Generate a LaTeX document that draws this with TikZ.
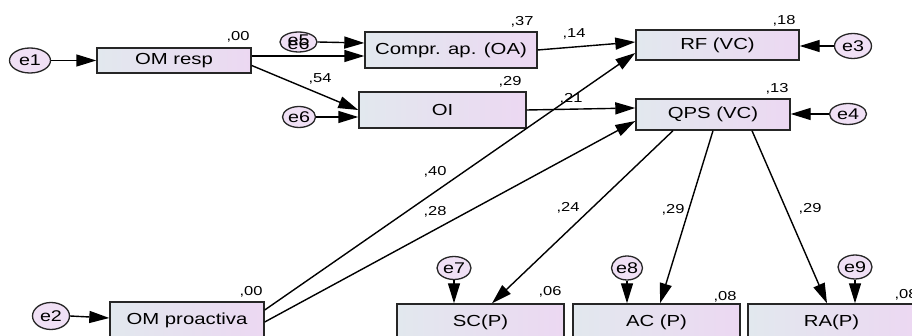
\documentclass[tikz,border=0pt]{standalone}
\usepackage{fontspec}
\usetikzlibrary{arrows.meta,shapes.geometric}
\newfontfamily\semfont[FakeStretch=1.27]{Liberation Sans}
\definecolor{boxL}{RGB}{226,232,238}
\definecolor{boxR}{RGB}{236,216,242}
\definecolor{errfill}{RGB}{240,224,245}
\tikzset{
  obs/.style={rectangle, draw=black!85, line width=1.4pt, left color=boxL, right color=boxR,
    inner sep=0pt, font=\semfont\fontsize{16}{18}\selectfont},
  err/.style={ellipse, draw=black!85, line width=1.3pt, fill=errfill, inner sep=0pt,
    font=\semfont\fontsize{15.5}{17}\selectfont},
  coef/.style={inner sep=0pt, font=\semfont\fontsize{13}{15}\selectfont},
  arr/.style={line width=1.4pt, -{Triangle[length=20pt,width=12pt]}}
}
\begin{document}
\begin{tikzpicture}[x=1pt,y=-1pt]
\clip (0,0) rectangle (912,336);
\fill[white] (0,0) rectangle (912,336);

% observed variables
\node[obs, minimum width=154pt, minimum height=25pt] (omresp) at (174,60.5) {OM resp};
\node[obs, minimum width=172pt, minimum height=36pt] (compr) at (451,50) {Compr. ap. (OA)};
\node[obs, minimum width=167pt, minimum height=36pt] (oi) at (442.5,110) {OI};
\node[obs, minimum width=163pt, minimum height=30pt] (rf) at (717.5,45) {RF (VC)};
\node[obs, minimum width=154pt, minimum height=31pt] (qps) at (713,114.5) {QPS (VC)};
\node[obs, minimum width=154pt, minimum height=36pt] (proact) at (187,320) {OM proactiva};
\node[obs, minimum width=167pt, minimum height=36pt] (sc) at (480.5,322) {SC(P)};
\node[obs, minimum width=167pt, minimum height=36pt] (ac) at (656.5,322) {AC (P)};
\node[obs, minimum width=167pt, minimum height=36pt] (ra) at (831.5,322) {RA(P)};

% error terms (e5 carries a second, overprinted label)
\node[err, minimum width=41pt, minimum height=25pt] (e1) at (30,60.5) {e1};
\node[err, minimum width=37pt, minimum height=20pt] (e5) at (298.5,42) {};
\node (e5b) at (298.5,44.5) {\semfont\fontsize{15.5}{17}\selectfont e6};
\node (e5a) at (298.5,40.5) {\semfont\fontsize{15.5}{17}\selectfont e5};
\node[err, minimum width=33pt, minimum height=21pt] (e6) at (299,117) {e6};
\node[err, minimum width=37pt, minimum height=25pt] (e3) at (853,46) {e3};
\node[err, minimum width=37pt, minimum height=21pt] (e4) at (848,114) {e4};
\node[err, minimum width=37pt, minimum height=27pt] (e2) at (51,316) {e2};
\node[err, minimum width=34pt, minimum height=23pt] (e7) at (454,268) {e7};
\node[err, minimum width=31pt, minimum height=24pt] (e8) at (627,268) {e8};
\node[err, minimum width=34pt, minimum height=24pt] (e9) at (855,267) {e9};

% error paths
\draw[arr] (e1.east) -- (omresp.west);
\draw[arr] (e5.east) -- ([yshift=7pt]compr.west);
\draw[arr] (e6.east) -- ([yshift=-7pt]oi.west);
\draw[arr] (e3.west) -- ([yshift=-1pt]rf.east);
\draw[arr] (e4.west) -- ([yshift=0.5pt]qps.east);
\draw[arr] (e2.east) -- ([yshift=2pt]proact.west);
\draw[arr] (e7.south) -- ([xshift=-26.5pt]sc.north);
\draw[arr] (e8.south) -- ([xshift=-29.5pt]ac.north);
\draw[arr] (e9.south) -- ([xshift=23.5pt]ra.north);

% structural paths
\draw[arr] ([yshift=4.5pt]omresp.east) -- ([yshift=-6pt]compr.west);
\draw[arr] ([yshift=-5pt]omresp.east) -- (oi.west);
\draw[arr] (compr.east) -- ([yshift=3pt]rf.west);
\draw[arr] (oi.east) -- ([yshift=6.5pt]qps.west);
\draw[arr] ([yshift=10pt]proact.east) -- ([yshift=-8pt]rf.west);
\draw[arr] ([yshift=-2pt]proact.east) -- ([yshift=-6.5pt]qps.west);
\draw[arr] ([xshift=-40pt]qps.south) -- ([xshift=11.5pt]sc.north);
\draw[arr] (qps.south) -- ([xshift=3.5pt]ac.north);
\draw[arr] ([xshift=39pt]qps.south) -- ([xshift=-4.5pt]ra.north);

% squared multiple correlations
\node[coef] (r1) at (238,37) {,00};
\node[coef] (r2) at (522,22) {,37};
\node[coef] (r3) at (510,82) {,29};
\node[coef] (r4) at (784,21) {,18};
\node[coef] (r5) at (777,89) {,13};
\node[coef] (r6) at (251,292) {,00};
\node[coef] (r7) at (550,292) {,06};
\node[coef] (r8) at (725,297) {,08};
\node[coef] (r9) at (906,295) {,08};
% standardized path weights
\node[coef] (b1) at (320,79) {,54};
\node[coef] (b2) at (574,34) {,14};
\node[coef] (b3) at (571,99) {,21};
\node[coef] (b4) at (435,172) {,40};
\node[coef] (b5) at (435,212) {,28};
\node[coef] (b6) at (568,208) {,24};
\node[coef] (b7) at (673,210) {,29};
\node[coef] (b8) at (810,209) {,29};
\end{tikzpicture}
\end{document}
